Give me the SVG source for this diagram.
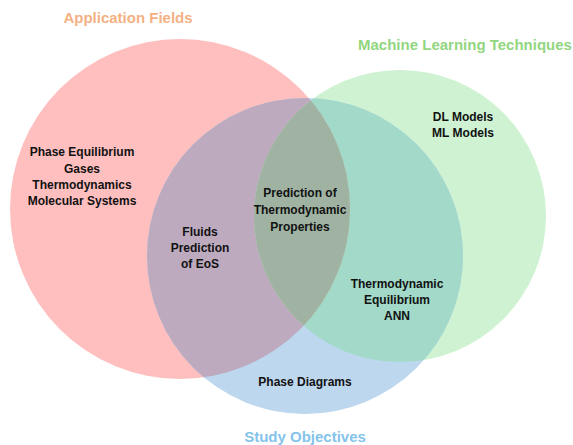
<svg xmlns="http://www.w3.org/2000/svg" width="573" height="445" viewBox="0 0 573 445">
  <defs>
    <clipPath id="clipRed"><circle cx="180" cy="209" r="170"/></clipPath>
    <clipPath id="clipGreen"><circle cx="400" cy="216" r="146"/></clipPath>
    <clipPath id="clipBlue"><circle cx="305" cy="256" r="158"/></clipPath>
  </defs>
  <style>
    .title { font-family: "Liberation Sans", Arial, sans-serif; font-weight: bold; font-size: 15px; text-anchor: middle; }
    .lbl { font-family: "Liberation Sans", Arial, sans-serif; font-weight: bold; font-size: 12px; fill: #111111; text-anchor: middle; }
  </style>
  <rect width="573" height="445" fill="#ffffff"/>

  <!-- set circles -->
  <g id="set-application">
    <circle cx="180" cy="209" r="170" fill="#FFBFBF"/>
  </g>
  <g id="set-ml">
    <circle cx="400" cy="216" r="146" fill="#CFF2D3"/>
  </g>
  <g id="set-study">
    <circle cx="305" cy="256" r="158" fill="#BDD7EE"/>
  </g>

  <!-- overlaps -->
  <g id="overlaps">
    <g clip-path="url(#clipBlue)">
      <circle cx="180" cy="209" r="170" fill="#BDAABF"/>
      <circle cx="400" cy="216" r="146" fill="#A2D9C9"/>
    </g>
    <g clip-path="url(#clipRed)">
      <circle cx="400" cy="216" r="146" fill="#C9C8B6"/>
    </g>
    <g clip-path="url(#clipBlue)">
      <g clip-path="url(#clipRed)">
        <circle cx="400" cy="216" r="146" fill="#A0B3A3"/>
      </g>
    </g>
  </g>

  <!-- titles -->
  <text class="title" x="128" y="23" fill="#F4B183">Application Fields</text>
  <text class="title" x="465" y="50" fill="#92D67F">Machine Learning Techniques</text>
  <text class="title" x="305" y="442" fill="#84C3EA">Study Objectives</text>

  <!-- region labels -->
  <g id="label-application">
    <text class="lbl" x="82" y="156">Phase Equilibrium</text>
    <text class="lbl" x="82" y="173">Gases</text>
    <text class="lbl" x="82" y="189">Thermodynamics</text>
    <text class="lbl" x="82" y="205">Molecular Systems</text>
  </g>
  <g id="label-ml">
    <text class="lbl" x="463" y="121">DL Models</text>
    <text class="lbl" x="463" y="137">ML Models</text>
  </g>
  <g id="label-app-study">
    <text class="lbl" x="200" y="236">Fluids</text>
    <text class="lbl" x="200" y="252">Prediction</text>
    <text class="lbl" x="200" y="268">of EoS</text>
  </g>
  <g id="label-center">
    <text class="lbl" x="300" y="197">Prediction of</text>
    <text class="lbl" x="300" y="214">Thermodynamic</text>
    <text class="lbl" x="300" y="231">Properties</text>
  </g>
  <g id="label-ml-study">
    <text class="lbl" x="397" y="288">Thermodynamic</text>
    <text class="lbl" x="397" y="304">Equilibrium</text>
    <text class="lbl" x="397" y="320">ANN</text>
  </g>
  <g id="label-study">
    <text class="lbl" x="305" y="386">Phase Diagrams</text>
  </g>
</svg>
